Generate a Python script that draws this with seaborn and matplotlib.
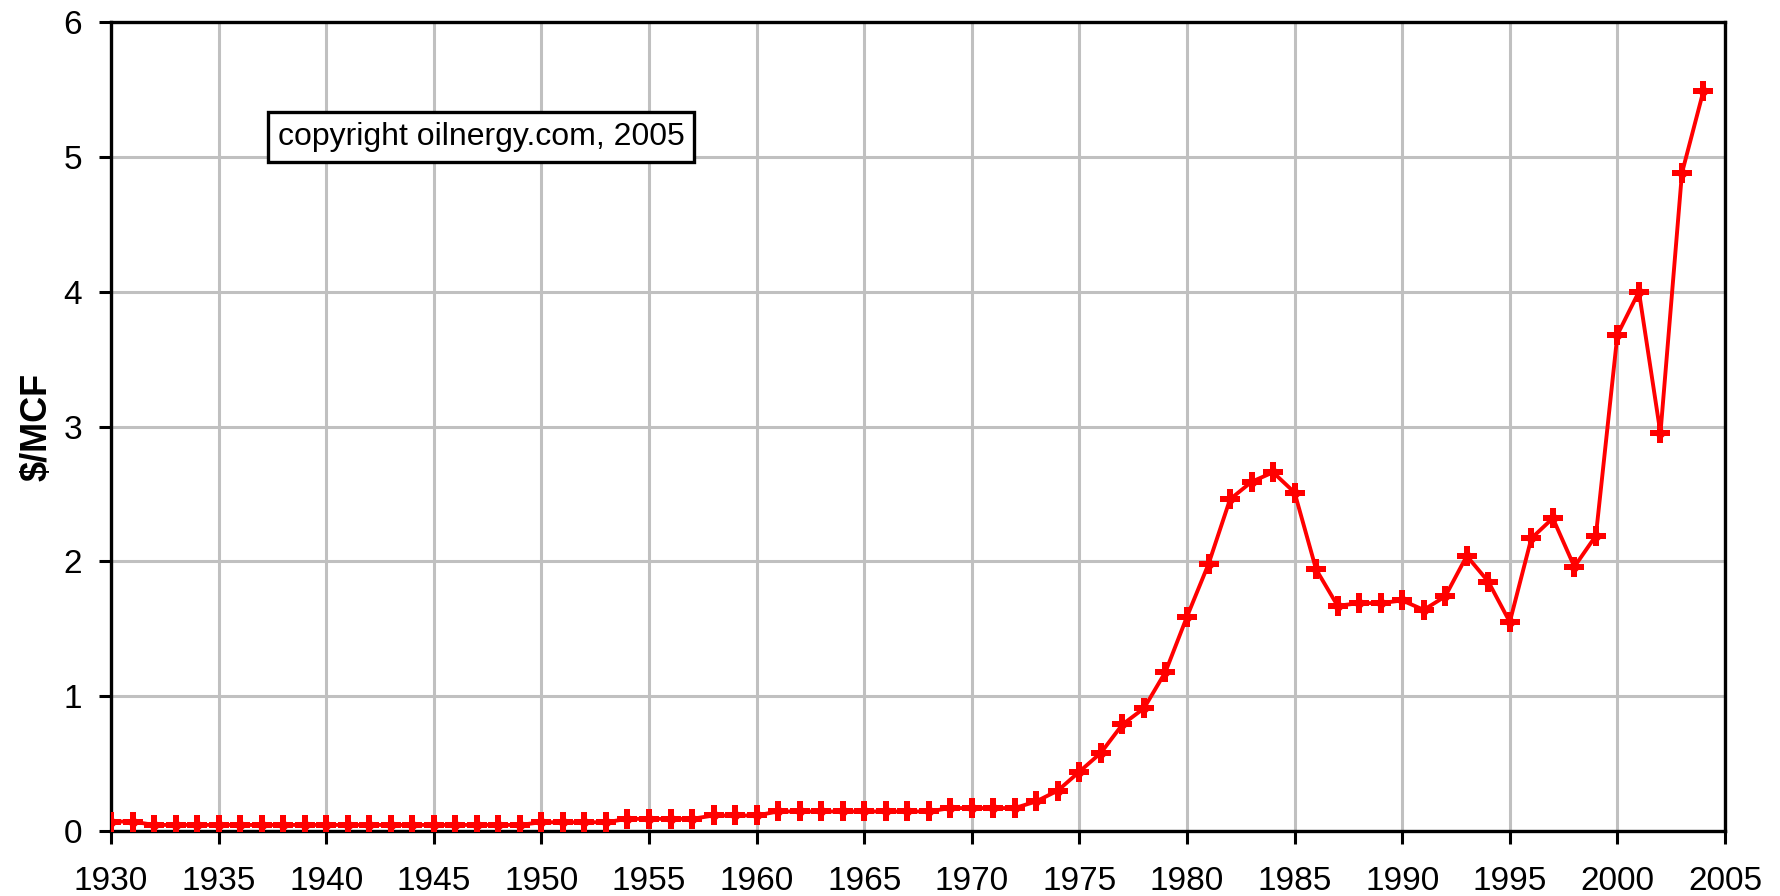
import matplotlib
matplotlib.use("Agg")
import matplotlib.pyplot as plt
import seaborn as sns
import pandas as pd

years = list(range(1930, 2005))
price = [
    0.07, 0.07,                                   # 1930-31
    0.045, 0.045, 0.045, 0.045, 0.045, 0.045, 0.045, 0.045, 0.045,   # 1932-40
    0.045, 0.045, 0.045, 0.045, 0.045, 0.045, 0.045, 0.045, 0.045,   # 1941-49
    0.065, 0.065, 0.065, 0.065,                   # 1950-53
    0.09, 0.09, 0.09, 0.09,                       # 1954-57
    0.115, 0.115, 0.115,                          # 1958-60
    0.145, 0.145, 0.145, 0.145, 0.145, 0.145, 0.145, 0.145,  # 1961-68
    0.17, 0.17, 0.17, 0.17,                       # 1969-72
    0.22, 0.30, 0.44, 0.58, 0.79, 0.91, 1.18,     # 1973-79
    1.59, 1.98, 2.46, 2.59, 2.66, 2.51, 1.94, 1.67, 1.69, 1.69,  # 1980-89
    1.71, 1.64, 1.74, 2.04, 1.85, 1.55, 2.17, 2.32, 1.96, 2.19,  # 1990-99
    3.68, 4.00, 2.95, 4.88, 5.49,                 # 2000-04
]
x_ticks = list(range(1930, 2006, 5))
y_ticks = [0, 1, 2, 3, 4, 5, 6]
y_label = "$/MCF"
note = "copyright oilnergy.com, 2005"

df = pd.DataFrame({"year": years, "price": price})

sns.set_theme(style="white")
plt.rcParams["font.family"] = ["Liberation Sans", "DejaVu Sans"]
plt.rcParams["text.color"] = "black"
plt.rcParams["axes.labelcolor"] = "black"
plt.rcParams["xtick.color"] = "black"
plt.rcParams["ytick.color"] = "black"

fig = plt.figure(figsize=(17.8, 8.96), dpi=100)
ax = fig.add_axes([111 / 1780, 1 - 831 / 896, (1725 - 111) / 1780, (831 - 22) / 896])

sns.lineplot(data=df, x="year", y="price", ax=ax, color="#FF0000", linewidth=2.8,
             marker="P", markersize=14, markeredgewidth=0, markerfacecolor="#FF0000",
             zorder=3)
sns.scatterplot(data=df, x="year", y="price", ax=ax, color="#FF0000", marker="D",
                s=45, linewidth=0, zorder=4, legend=False)

ax.set_xlim(1930, 2005)
ax.set_ylim(0, 6)
ax.set_xticks(x_ticks)
ax.set_yticks(y_ticks)
ax.set_xticklabels([str(t) for t in x_ticks], fontsize=24, color="black")
ax.set_yticklabels([str(t) for t in y_ticks], fontsize=24, color="black")
ax.grid(True, color="#C0C0C0", linewidth=2.2, zorder=0)
ax.set_axisbelow(True)
for s in ax.spines.values():
    s.set_color("black")
    s.set_linewidth(2.4)
    s.set_visible(True)
ax.tick_params(axis="both", which="major", direction="out", length=9, width=2.2,
               color="black", labelcolor="black", bottom=True, left=True)
ax.tick_params(axis="x", pad=16)
ax.tick_params(axis="y", pad=12)
ax.set_xlabel("")
ax.set_ylabel(y_label, fontsize=26, fontweight="bold", labelpad=6, color="black")

ax.text(1930 + (278 - 111) / 1614 * 75, 6 - (137 - 22) / 809 * 6, note,
        fontsize=23, va="center", ha="left", color="black",
        bbox=dict(boxstyle="square,pad=0.3", facecolor="white", edgecolor="black",
                  linewidth=2.4), zorder=5)

fig.savefig("out.png", dpi=100, facecolor="white")
